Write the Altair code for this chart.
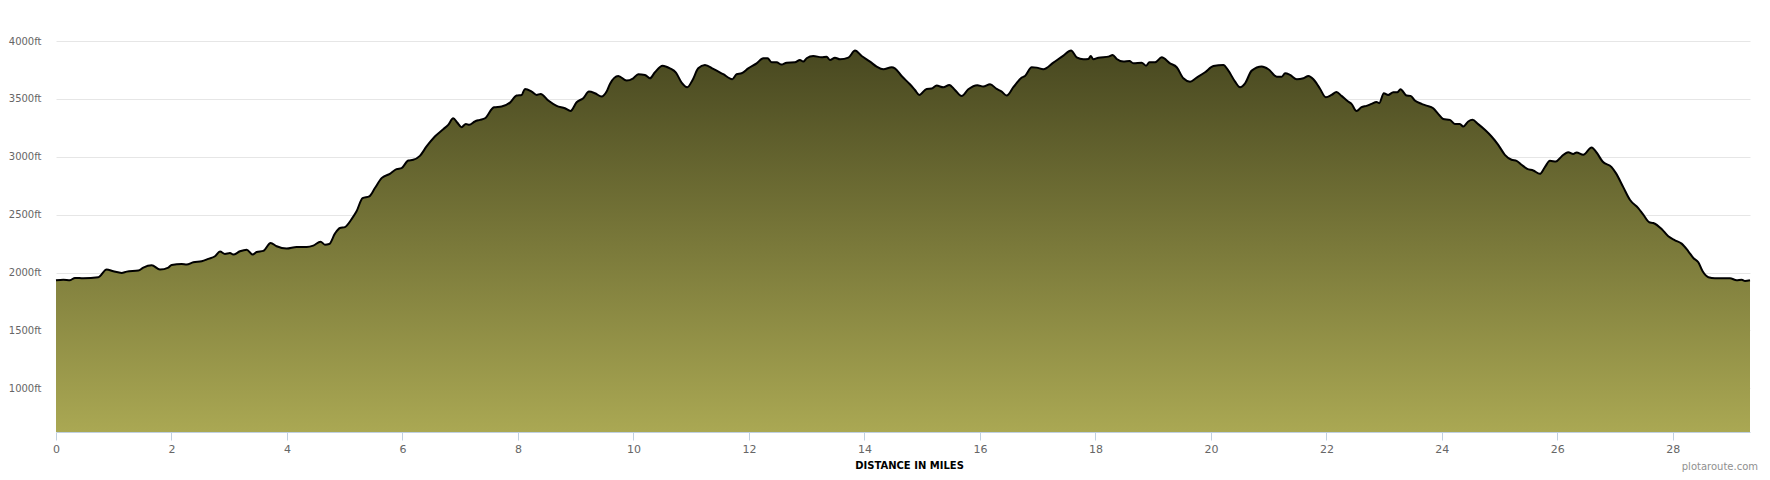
import altair as alt
import pandas as pd

# distance along route (miles)
miles = [
    0.0, 0.127, 0.242, 0.329, 0.473, 0.733, 0.877, 0.993, 1.137, 1.224,
    1.426, 1.512, 1.657, 1.801, 1.945, 2.003, 2.176, 2.263, 2.378, 2.523,
    2.638, 2.753, 2.84, 2.926, 3.013, 3.071, 3.186, 3.302, 3.406, 3.475,
    3.59, 3.717, 3.821, 3.994, 4.167, 4.34, 4.455, 4.582, 4.657, 4.732,
    4.83, 4.917, 5.003, 5.119, 5.205, 5.309, 5.425, 5.523, 5.638, 5.782,
    5.898, 5.984, 6.1, 6.186, 6.302, 6.417, 6.561, 6.706, 6.792, 6.879,
    6.948, 7.023, 7.098, 7.156, 7.254, 7.341, 7.429, 7.585, 7.717, 7.862,
    7.977, 8.064, 8.121, 8.237, 8.323, 8.393, 8.525, 8.67, 8.814, 8.912,
    9.016, 9.131, 9.229, 9.333, 9.449, 9.535, 9.593, 9.737, 9.881, 9.997,
    10.083, 10.199, 10.286, 10.372, 10.505, 10.632, 10.736, 10.834, 10.932, 11.024,
    11.122, 11.238, 11.382, 11.555, 11.711, 11.786, 11.873, 11.988, 12.133, 12.248,
    12.323, 12.393, 12.479, 12.566, 12.652, 12.797, 12.883, 12.941, 12.999, 13.114,
    13.259, 13.345, 13.403, 13.49, 13.577, 13.721, 13.837, 13.952, 14.097, 14.212,
    14.328, 14.472, 14.528, 14.644, 14.788, 14.875, 14.95, 15.077, 15.164, 15.251,
    15.366, 15.47, 15.568, 15.684, 15.799, 15.955, 16.059, 16.175, 16.29, 16.377,
    16.463, 16.579, 16.723, 16.781, 16.897, 16.983, 17.099, 17.272, 17.446, 17.578,
    17.676, 17.792, 17.879, 17.919, 17.965, 18.052, 18.225, 18.3, 18.369, 18.485,
    18.589, 18.658, 18.802, 18.877, 18.935, 19.033, 19.148, 19.292, 19.408, 19.523,
    19.639, 19.754, 19.899, 20.043, 20.216, 20.303, 20.419, 20.505, 20.592, 20.707,
    20.88, 20.996, 21.14, 21.227, 21.285, 21.371, 21.487, 21.602, 21.689, 21.775,
    21.887, 21.991, 22.089, 22.175, 22.262, 22.377, 22.435, 22.522, 22.608, 22.695,
    22.781, 22.868, 22.914, 22.995, 23.07, 23.157, 23.226, 23.284, 23.388, 23.457,
    23.532, 23.648, 23.734, 23.85, 23.936, 24.023, 24.139, 24.225, 24.312, 24.37,
    24.456, 24.531, 24.629, 24.745, 24.86, 24.976, 25.091, 25.207, 25.294, 25.38,
    25.478, 25.582, 25.697, 25.784, 25.871, 25.975, 26.073, 26.188, 26.275, 26.333,
    26.448, 26.593, 26.679, 26.783, 26.939, 27.014, 27.141, 27.256, 27.401, 27.488,
    27.592, 27.661, 27.806, 27.921, 28.037, 28.152, 28.268, 28.355, 28.441, 28.516,
    28.615, 28.73, 28.874, 28.99, 29.105, 29.192, 29.25, 29.336,
]

# elevation (feet)
elevation = [
    1934, 1939, 1934, 1954, 1951, 1960, 2026, 2011, 1997, 2008,
    2017, 2043, 2063, 2026, 2043, 2066, 2074, 2069, 2089, 2097,
    2118, 2141, 2181, 2161, 2169, 2155, 2184, 2198, 2155, 2178,
    2187, 2256, 2227, 2207, 2221, 2221, 2233, 2267, 2241, 2247,
    2336, 2385, 2393, 2462, 2529, 2643, 2658, 2730, 2816, 2853,
    2893, 2902, 2968, 2974, 3008, 3089, 3175, 3238, 3276, 3333,
    3296, 3256, 3284, 3276, 3305, 3319, 3333, 3428, 3434, 3468,
    3529, 3534, 3586, 3563, 3534, 3543, 3486, 3440, 3419, 3396,
    3471, 3506, 3563, 3549, 3520, 3563, 3629, 3698, 3658, 3678,
    3713, 3707, 3678, 3730, 3787, 3764, 3727, 3641, 3601, 3664,
    3764, 3793, 3759, 3713, 3670, 3713, 3721, 3764, 3807, 3851,
    3851, 3816, 3816, 3796, 3813, 3816, 3836, 3822, 3851, 3871,
    3859, 3865, 3836, 3856, 3842, 3856, 3917, 3871, 3822, 3779,
    3756, 3773, 3764, 3698, 3626, 3577, 3534, 3586, 3589, 3615,
    3600, 3621, 3577, 3526, 3583, 3618, 3606, 3626, 3586, 3563,
    3529, 3601, 3684, 3698, 3773, 3770, 3756, 3813, 3874, 3917,
    3859, 3842, 3845, 3871, 3842, 3856, 3865, 3879, 3845, 3822,
    3828, 3807, 3813, 3787, 3816, 3816, 3859, 3807, 3773, 3678,
    3649, 3684, 3730, 3784, 3793, 3744, 3649, 3601, 3635, 3744,
    3779, 3756, 3692, 3692, 3721, 3707, 3670, 3678, 3698, 3670,
    3590, 3514, 3534, 3560, 3526, 3477, 3457, 3396, 3428, 3440,
    3457, 3474, 3463, 3549, 3534, 3557, 3557, 3583, 3529, 3526,
    3486, 3457, 3442, 3419, 3371, 3327, 3319, 3284, 3284, 3261,
    3305, 3319, 3282, 3233, 3175, 3103, 3017, 2974, 2965, 2931,
    2896, 2882, 2853, 2911, 2965, 2959, 3003, 3040, 3025, 3037,
    3017, 3080, 3037, 2959, 2911, 2859, 2738, 2629, 2557, 2500,
    2434, 2428, 2376, 2313, 2279, 2250, 2184, 2126, 2089, 2011,
    1960, 1951, 1951, 1951, 1934, 1939, 1928, 1934,
]

x_ticks = [0, 2, 4, 6, 8, 10, 12, 14, 16, 18, 20, 22, 24, 26, 28]
y_ticks = [1000, 1500, 2000, 2500, 3000, 3500, 4000]
x_domain = [0, 29.336]
y_domain = [623, 4000]
x_title = "DISTANCE IN MILES"
watermark = ["plotaroute.com"]

df = pd.DataFrame({"mile": miles, "elev": elevation})
wm = pd.DataFrame({"t": watermark})

xscale = alt.Scale(domain=x_domain, nice=False, zero=False)
yscale = alt.Scale(domain=y_domain, nice=False, zero=False)

x_enc = alt.X(
    "mile:Q", scale=xscale,
    axis=alt.Axis(
        values=x_ticks, title=x_title, grid=False,
        domainColor="#C0D0E0", tickColor="#C0D0E0", tickSize=8,
        labelPadding=3, labelFont="DejaVu Sans", labelFontSize=11,
        labelColor="#666666", labelFlush=False,
        titleFont="DejaVu Sans", titleFontSize=10, titleFontWeight="bold",
        titleColor="#000000", titleX=853, titleY=33, titleBaseline="middle",
        titleAlign="center",
    ),
)
y_enc = alt.Y(
    "elev:Q", scale=yscale,
    axis=alt.Axis(
        values=y_ticks, labelExpr="datum.value + 'ft'", title=None,
        domain=False, ticks=False, labelPadding=15, grid=True,
        gridColor="#e6e6e6", gridWidth=1,
        labelColor="#666666", labelFont="DejaVu Sans", labelFontSize=10,
    ),
)

gradient = alt.Gradient(
    gradient="linear",
    stops=[alt.GradientStop(color="#484820", offset=0),
           alt.GradientStop(color="#aaa853", offset=1)],
    x1=0, x2=0, y1=0, y2=1,
)

area = alt.Chart(df).mark_area(interpolate="monotone", color=gradient).encode(
    x=x_enc, y=y_enc, y2=alt.datum(y_domain[0])
)
line = alt.Chart(df).mark_line(interpolate="monotone", color="black", strokeWidth=2).encode(x=x_enc, y=y_enc)
text = alt.Chart(wm).mark_text(
    align="right", baseline="alphabetic", fontSize=10, font="DejaVu Sans", color="#909090"
).encode(text="t:N", x=alt.value(1702), y=alt.value(429))

chart = alt.layer(area, line, text).properties(
    width=1694, height=391,
    autosize=alt.AutoSizeParams(type="none"),
    padding={"left": 48, "top": 33, "right": 12, "bottom": 40},
).configure_view(stroke=None)

chart.save("out.html", embed_options={"renderer": "svg", "actions": False})
